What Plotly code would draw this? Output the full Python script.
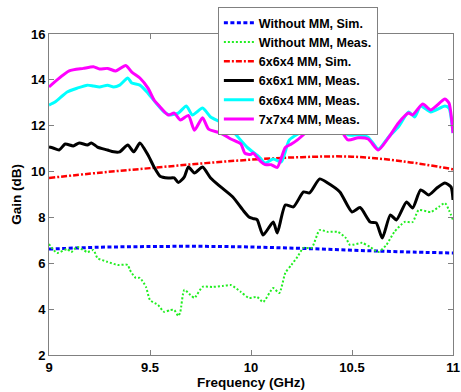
import plotly.graph_objects as go

# ---- data ----
sim_freq = [9.0, 9.25, 9.5, 9.75, 10.0, 10.25, 10.5, 10.75, 11.0]
without_sim = [6.62, 6.70, 6.73, 6.74, 6.71, 6.65, 6.57, 6.50, 6.45]
mm664_sim = [9.72, 9.95, 10.15, 10.35, 10.52, 10.63, 10.65, 10.45, 10.10]

green_freq = [9.00, 9.04, 9.09, 9.11, 9.14, 9.19, 9.22, 9.24, 9.29, 9.34, 9.39, 9.40, 9.43, 9.45,
              9.48, 9.50, 9.54, 9.57, 9.60, 9.62, 9.64, 9.65, 9.67, 9.70, 9.72, 9.76, 9.81, 9.86,
              9.90, 9.95, 9.99, 10.03, 10.06, 10.11, 10.14, 10.17, 10.20, 10.23, 10.26, 10.30,
              10.34, 10.38, 10.43, 10.47, 10.49, 10.55, 10.59, 10.63, 10.67, 10.71, 10.76, 10.80,
              10.83, 10.89, 10.93, 10.96, 10.98, 11.00]
without_meas = [6.84, 6.45, 6.62, 6.49, 6.71, 6.49, 6.58, 6.23, 6.06, 5.93, 5.93, 5.71, 5.36, 5.36,
                4.97, 4.40, 4.18, 3.88, 3.96, 3.96, 3.70, 3.88, 4.84, 4.62, 4.49, 4.97, 4.97, 5.01,
                5.05, 4.75, 4.49, 4.53, 4.31, 4.92, 4.70, 5.58, 5.93, 6.28, 6.67, 6.67,
                7.45, 7.37, 7.37, 7.10, 6.80, 6.89, 6.71, 6.49, 6.80, 7.37, 7.80, 7.80,
                8.32, 8.24, 8.46, 8.63, 8.32, 7.89]

black_freq = [9.00, 9.02, 9.05, 9.08, 9.12, 9.15, 9.19, 9.21, 9.24, 9.29, 9.32, 9.35, 9.39, 9.42,
              9.45, 9.49, 9.52, 9.55, 9.59, 9.62, 9.64, 9.67, 9.69, 9.72, 9.76, 9.80, 9.85, 9.91,
              9.96, 9.99, 10.01, 10.03, 10.06, 10.11, 10.13, 10.17, 10.21, 10.26, 10.29, 10.34,
              10.38, 10.44, 10.50, 10.54, 10.59, 10.62, 10.65, 10.69, 10.72, 10.77, 10.80, 10.84,
              10.88, 10.92, 10.96, 10.99, 11.00]
mm661_meas = [11.07, 11.03, 10.94, 11.20, 11.12, 11.25, 11.16, 11.25, 11.07, 10.94, 10.86, 10.86, 11.16, 10.86,
              11.25, 10.72, 10.20, 9.80, 9.72, 9.72, 9.52, 9.77, 10.20, 9.94, 10.20, 9.72, 9.33, 8.89,
              8.32, 8.02, 7.95, 7.90, 7.23, 7.80, 7.32, 8.54, 8.46, 9.11, 9.07, 9.68,
              9.50, 9.11, 8.24, 8.43, 7.80, 7.76, 7.10, 8.11, 7.89, 8.67, 8.41, 9.20,
              8.98, 9.28, 9.50, 9.33, 8.76]

cyan_freq = [9.00, 9.03, 9.09, 9.14, 9.19, 9.22, 9.25, 9.29, 9.32, 9.35, 9.39, 9.41, 9.45, 9.49,
             9.53, 9.57, 9.60, 9.64, 9.68, 9.71, 9.76, 9.80, 9.85, 9.90, 9.98, 10.04, 10.07, 10.11,
             10.15, 10.19, 10.25, 10.31, 10.34, 10.39, 10.43, 10.48, 10.53, 10.58, 10.63, 10.68,
             10.73, 10.78, 10.81, 10.84, 10.89, 10.96, 10.98, 11.00]
mm664_meas = [12.90, 13.03, 13.47, 13.64, 13.77, 13.73, 13.69, 13.77, 13.69, 13.77, 14.08, 13.86, 13.77, 13.42,
              12.99, 12.60, 12.47, 12.55, 12.86, 12.47, 12.77, 12.38, 12.16, 11.85, 11.07, 10.64, 10.37, 10.55,
              10.42, 11.38, 11.73, 12.12, 12.38, 12.03, 12.16, 11.60, 11.60, 11.50, 10.98, 11.50,
              11.95, 12.60, 12.38, 12.86, 12.60, 12.86, 12.77, 11.68]

mag_freq = [9.00, 9.04, 9.10, 9.17, 9.22, 9.25, 9.29, 9.33, 9.38, 9.41, 9.45, 9.49, 9.52, 9.55,
            9.59, 9.62, 9.65, 9.69, 9.72, 9.76, 9.79, 9.85, 9.90, 9.95, 9.97, 10.00, 10.01, 10.05,
            10.07, 10.10, 10.13, 10.17, 10.20, 10.23, 10.27, 10.31, 10.34, 10.39, 10.43, 10.48,
            10.53, 10.58, 10.63, 10.68, 10.73, 10.78, 10.80, 10.85, 10.89, 10.96, 10.98, 11.00]
mm774_meas = [13.69, 14.00, 14.39, 14.50, 14.57, 14.47, 14.50, 14.39, 14.63, 14.34, 14.08, 13.64, 13.12, 12.82,
              12.47, 12.55, 12.25, 12.45, 11.80, 12.35, 11.85, 11.68, 11.42, 11.20, 10.80, 10.75, 10.81, 10.42,
              10.30, 10.30, 10.18, 11.05, 11.20, 11.38, 11.68, 11.85, 12.05, 11.88, 11.98, 11.38,
              11.47, 11.42, 10.94, 11.47, 12.12, 12.55, 12.47, 12.95, 12.69, 13.16, 12.99, 11.68]

x_ticks = [9, 9.5, 10, 10.5, 11]
x_tick_text = ["9", "9.5", "10", "10.5", "11"]
y_ticks = [2, 4, 6, 8, 10, 12, 14, 16]

FONT = "Liberation Sans, Arial, sans-serif"

fig = go.Figure()
fig.add_trace(go.Scatter(x=sim_freq, y=without_sim, mode="lines", name="<b>Without MM, Sim.</b>",
                         line=dict(color="#0000ff", width=3, dash="4px,2.5px", shape="spline")))
fig.add_trace(go.Scatter(x=green_freq, y=without_meas, mode="lines", name="<b>Without MM, Meas.</b>",
                         line=dict(color="#22ee22", width=2, dash="2px,2px", shape="spline", smoothing=0.6)))
fig.add_trace(go.Scatter(x=sim_freq, y=mm664_sim, mode="lines", name="<b>6x6x4 MM, Sim.</b>",
                         line=dict(color="#ff0000", width=2.5, dash="6px,2px,2px,2px", shape="spline")))
fig.add_trace(go.Scatter(x=black_freq, y=mm661_meas, mode="lines", name="<b>6x6x1 MM, Meas.</b>",
                         line=dict(color="#000000", width=3, shape="spline", smoothing=0.6)))
fig.add_trace(go.Scatter(x=cyan_freq, y=mm664_meas, mode="lines", name="<b>6x6x4 MM, Meas.</b>",
                         line=dict(color="#00ffff", width=3, shape="spline", smoothing=0.6)))
fig.add_trace(go.Scatter(x=mag_freq, y=mm774_meas, mode="lines", name="<b>7x7x4 MM, Meas.</b>",
                         line=dict(color="#ff00ff", width=3, shape="spline", smoothing=0.6)))

axis_common = dict(showline=True, linecolor="#808080", linewidth=1, mirror="ticks",
                   ticks="inside", ticklen=5, tickcolor="#808080", showgrid=False, zeroline=False,
                   automargin=False,
                   tickfont=dict(family=FONT, size=13, color="black"))

fig.update_layout(
    width=461, height=392,
    margin=dict(l=49, r=8, t=34, b=37, autoexpand=False),
    paper_bgcolor="white", plot_bgcolor="white",
    font=dict(family=FONT, color="black"),
    xaxis=dict(range=[9, 11], tickvals=x_ticks, ticktext=["<b>%s</b>" % t for t in x_tick_text],
               title=dict(text="<b>Frequency (GHz)</b>", font=dict(size=13.5), standoff=2),
               **axis_common),
    yaxis=dict(range=[2, 16], tickvals=y_ticks, ticktext=["<b>%d</b>" % t for t in y_ticks],
               title=dict(text="<b>Gain (dB)</b>", font=dict(size=13.5), standoff=6),
               **axis_common),
    legend=dict(x=0.418, y=1.084, xanchor="left", yanchor="top", bgcolor="white",
                bordercolor="#808080", borderwidth=1, font=dict(size=12.5, family=FONT),
                tracegroupgap=0),
    showlegend=True,
)
fig.write_html("out.html", config={"displayModeBar": False},
               post_script="document.body.style.margin='0';document.body.style.overflow='hidden';")
